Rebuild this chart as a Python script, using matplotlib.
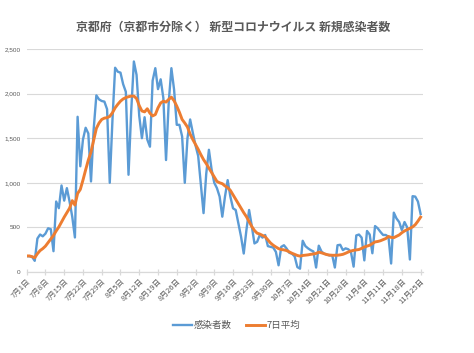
import matplotlib
matplotlib.use("Agg")
import matplotlib.pyplot as plt
import numpy as np

plt.rcParams['font.family'] = ['Noto Sans CJK JP', 'DejaVu Sans']

title = "京都府（京都市分除く） 新型コロナウイルス 新規感染者数"
series_names = ["感染者数", "7日平均"]

tick_labels = ["7月1日", "7月8日", "7月15日", "7月22日", "7月29日", "8月5日", "8月12日",
               "8月19日", "8月26日", "9月2日", "9月9日", "9月16日", "9月23日", "9月30日",
               "10月7日", "10月14日", "10月21日", "10月28日", "11月4日", "11月11日",
               "11月18日", "11月25日"]

daily = [177, 177, 170, 125, 375, 420, 400, 430, 490, 480,
         233, 790, 715, 970, 800, 940, 790, 620, 387, 1740,
         1185, 1485, 1617, 1553, 1015, 1600, 1980, 1935, 1917, 1910,
         1825, 1000, 1700, 2290, 2245, 2235, 2105, 2020, 1090, 1800,
         2360, 2210, 1750, 1500, 1735, 1485, 1405, 2145, 2285, 2050,
         2160, 1950, 1255, 1900, 2285, 2045, 1650, 1650, 1520, 1000,
         1500, 1710, 1560, 1420, 1300, 980, 660, 1100, 1370, 1150,
         1000, 940, 845, 620, 845, 1030, 846, 714, 695, 545,
         395, 207, 470, 695, 515, 320, 338, 415, 385, 415,
         290, 282, 274, 225, 75, 282, 300, 263, 215, 205,
         175, 55, 37, 350, 290, 265, 245, 230, 50, 295,
         230, 205, 195, 185, 190, 50, 300, 305, 245, 265,
         255, 225, 60, 410, 420, 385, 130, 460, 420, 210,
         515, 490, 450, 415, 415, 395, 95, 665, 600, 560,
         470, 560, 500, 140, 850, 845, 790, 650]

avg7 = [180, 180, 172, 160, 205, 240, 262, 290, 330, 370,
        410, 460, 505, 560, 615, 665, 715, 800, 750, 880,
        925, 1030, 1145, 1255, 1345, 1480, 1610, 1670, 1710, 1725,
        1730, 1745, 1785, 1840, 1880, 1915, 1940, 1955, 1965, 1972,
        1972, 1945, 1865, 1805, 1795, 1830, 1780, 1750, 1765, 1840,
        1895, 1915, 1905, 1935, 1960, 1920, 1860, 1790, 1710, 1670,
        1625, 1545, 1485, 1430, 1375, 1315, 1260, 1215, 1165, 1115,
        1065, 1015, 1000, 990, 965, 945, 915, 865, 815, 765,
        715, 665, 620, 565, 510, 465, 435, 425, 410, 395,
        360, 325, 300, 280, 262, 252, 248, 240, 225, 210,
        198, 185, 178, 185, 188, 192, 198, 202, 208, 222,
        215, 205, 195, 190, 187, 187, 188, 192, 198, 210,
        224, 235, 243, 248, 252, 265, 280, 290, 300, 318,
        337, 342, 350, 362, 375, 398, 388, 385, 400, 415,
        440, 460, 475, 490, 505, 530, 570, 615]

fig = plt.figure(figsize=(4.74, 3.53), dpi=100)
ax = fig.add_axes([0.0563, 0.2295, 0.8367, 0.6317])

x = np.arange(len(daily))
ax.plot(x, daily, color='#5B9BD5', lw=1.7, solid_joinstyle='round', label=series_names[0], zorder=3)
ax.plot(np.arange(len(avg7)), avg7, color='#ED7D31', lw=2.1, solid_joinstyle='round', label=series_names[1], zorder=4)

ax.set_xlim(0, 148)
ax.set_ylim(0, 2500)
ax.set_yticks(np.arange(0, 2501, 500))
ax.set_yticklabels([f"{v:,}" for v in range(0, 2501, 500)], fontsize=4.6, color='#595959',
                   family=['Liberation Sans'])
ax.set_xticks(np.arange(0, 7 * len(tick_labels), 7))
ax.set_xticklabels(tick_labels, rotation=45, ha='right', rotation_mode='anchor',
                   fontsize=5.5, color='#595959')
ax.grid(axis='y', color='#d9d9d9', lw=0.8)
ax.set_axisbelow(True)
for s in ['top', 'right', 'left']:
    ax.spines[s].set_visible(False)
ax.spines['bottom'].set_color('#d9d9d9')
ax.spines['bottom'].set_linewidth(0.9)
ax.tick_params(axis='y', length=0, pad=4.5)
ax.tick_params(axis='x', direction='inout', length=4, color='#d9d9d9', width=0.9, pad=2)

fig.text(0.492, 0.923, title, ha='center', va='center', fontsize=8.6, color='#595959',
         fontweight='bold')

leg = fig.legend(loc='center', bbox_to_anchor=(0.5, 0.077), ncol=2, frameon=False,
                 fontsize=6.8, handlelength=2.0, handletextpad=0.2, columnspacing=1.5)
for t in leg.get_texts():
    t.set_color('#595959')

fig.savefig('out.png', dpi=100)
